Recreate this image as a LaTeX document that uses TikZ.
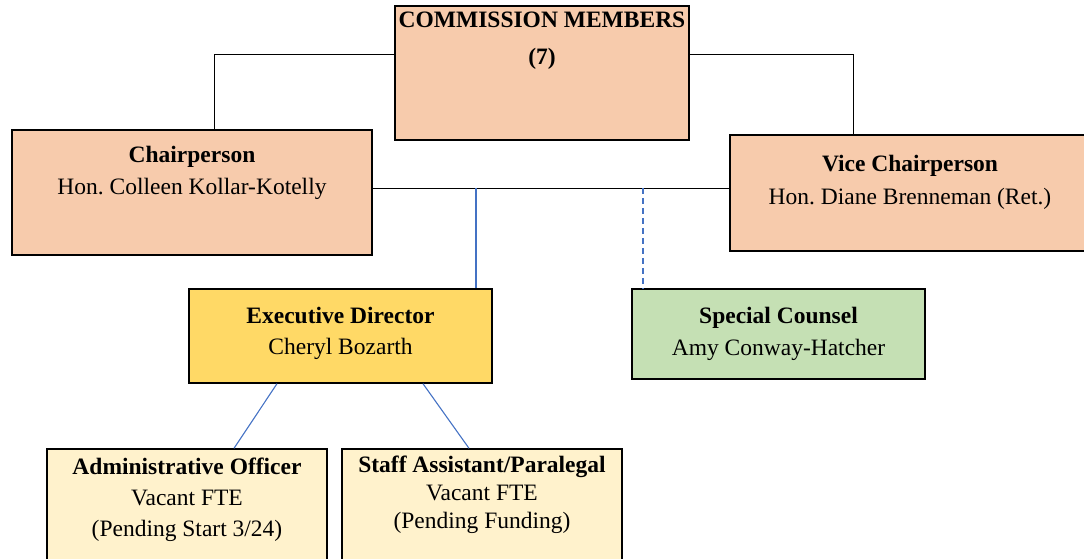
\documentclass[tikz,border=0pt]{standalone}
\usepackage{fontspec}
\setmainfont{Liberation Serif}
\frenchspacing
\usetikzlibrary{calc}
\definecolor{peach}{HTML}{F7CBAC}
\definecolor{gold}{HTML}{FFD966}
\definecolor{sage}{HTML}{C5E0B4}
\definecolor{cream}{HTML}{FFF2CC}
\definecolor{linkblue}{HTML}{4472C4}
\tikzset{
  box/.style={draw=black, line width=1.4pt, rectangle, inner sep=0pt},
  txt/.style={align=center, inner sep=0pt, font=\fontsize{23.5}{#1}\selectfont},
  txt/.default=32,
  blk/.style={draw=black, line width=1pt},
  blu/.style={draw=linkblue, line width=1.3pt}
}
\begin{document}
\begin{tikzpicture}[x=1pt,y=-1pt]
\useasboundingbox (0,0) rectangle (1084,558);
% boxes
\node[box, fill=peach, minimum width=294pt, minimum height=134pt] (cm) at (542,73) {};
\node[box, fill=peach, minimum width=360pt, minimum height=125pt] (chair) at (192,192.5) {};
\node[box, fill=peach, minimum width=360pt, minimum height=116pt] (vice) at (910,193) {};
\node[box, fill=gold, minimum width=303pt, minimum height=94pt] (exec) at (340.5,336) {};
\node[box, fill=sage, minimum width=293pt, minimum height=90pt] (spec) at (778.5,334) {};
\node[box, fill=cream, minimum width=280pt, minimum height=113pt] (admin) at (187,505.5) {};
\node[box, fill=cream, minimum width=280pt, minimum height=113pt] (staff) at (482,505.5) {};
% texts
\node[txt=37] (cmt) at (542,40.5) {\textbf{COMMISSION MEMBERS}\\\textbf{(7)}};
\node[txt=32] (chairt) at (192,172.5) {\textbf{Chairperson}\\Hon. Colleen Kollar-Kotelly};
\node[txt=33] (vicet) at (910,182) {\textbf{Vice Chairperson}\\Hon. Diane Brenneman (Ret.)};
\node[txt=31] (exect) at (340.5,333) {\textbf{Executive Director}\\Cheryl Bozarth};
\node[txt=32] (spect) at (778.5,333.5) {\textbf{Special Counsel}\\Amy Conway-Hatcher};
\node[txt=31] (admint) at (187,499.5) {\textbf{Administrative Officer}\\Vacant FTE\\(Pending Start 3/24)};
\node[txt=28] (stafft) at (482,495) {\textbf{Staff Assistant/Paralegal}\\Vacant FTE\\(Pending Funding)};
% connectors
\draw[blk] (cm.west |- 0,54) -| ([xshift=22pt]chair.north);
\draw[blk] (cm.east |- 0,54) -| ([xshift=-57pt]vice.north);
\draw[blk] (chair.east |- 0,188) -- (vice.west |- 0,188);
\coordinate (j1) at (476,188);
\coordinate (j2) at (643,188);
\draw[blu] (j1) -- (j1 |- exec.north);
\draw[blu, dash pattern=on 6pt off 4pt] (j2) -- (j2 |- spec.north);
\draw[blu, line width=1.1pt] ([xshift=-63.5pt]exec.south) -- ([xshift=47pt]admin.north);
\draw[blu, line width=1.1pt] ([xshift=82.5pt]exec.south) -- ([xshift=-13pt]staff.north);
\end{tikzpicture}
\end{document}
